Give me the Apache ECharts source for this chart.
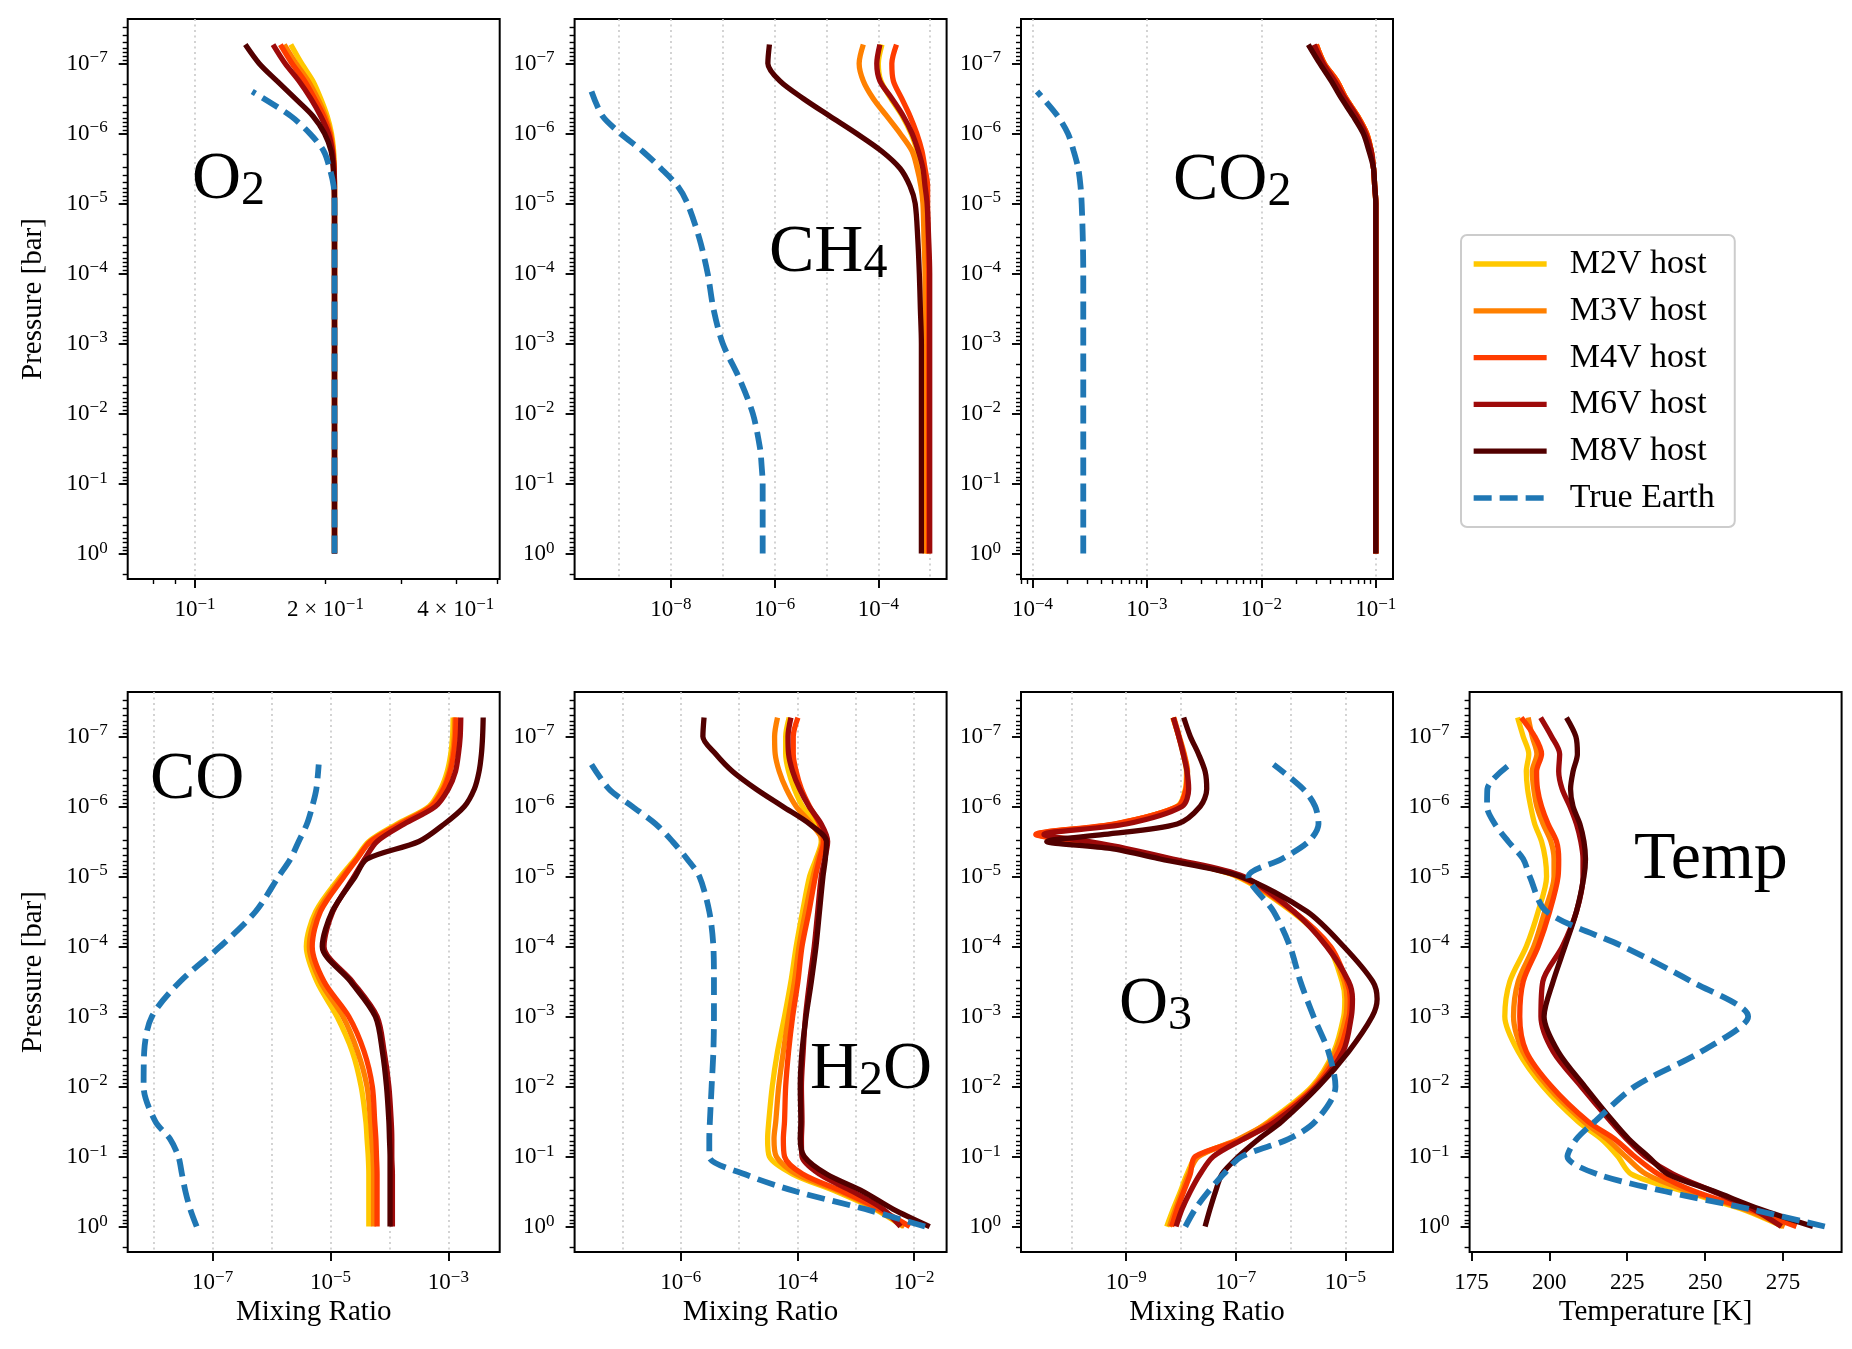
<!DOCTYPE html>
<html>
<head>
<meta charset="utf-8">
<script src="https://cdn.jsdelivr.net/npm/echarts@6/dist/echarts.min.js"></script>
<style>
  html, body { margin: 0; padding: 0; background: #fff; }
  #chart { width: 1852px; height: 1349px; }
</style>
</head>
<body>
<div id="chart"></div>
<script>
// pressure levels, log10(bar)
const LOGP = [0, -0.25, -0.5, -0.75, -1, -1.25, -1.5, -2, -2.5, -3, -3.5, -4, -4.5, -5, -5.25, -5.5, -5.75, -6, -6.25, -6.5, -6.75, -7, -7.27];
const LOGP_EARTH = [0, -0.25, -0.5, -0.75, -1, -1.25, -1.5, -2, -2.5, -3, -3.5, -4, -4.5, -5, -5.25, -5.5, -5.75, -6, -6.25, -6.6];
const LOGP_O3 = [0, -0.25, -0.5, -0.75, -1, -1.25, -1.5, -2, -2.5, -3, -3.25, -3.5, -4, -4.5, -5, -5.25, -5.4, -5.5, -5.6, -5.75, -6, -6.25, -6.5, -6.75, -7, -7.27];

const HOSTS = ['M2V host', 'M3V host', 'M4V host', 'M6V host', 'M8V host'];
const EARTH = 'True Earth';

// mixing ratios, log10
const O2_M2V = [-0.678,-0.678,-0.678,-0.678,-0.678,-0.678,-0.678,-0.678,-0.678,-0.678,-0.678,-0.678,-0.678,-0.678,-0.678,-0.679,-0.680,-0.685,-0.695,-0.710,-0.728,-0.754,-0.779];
const O2_M3V = [-0.678,-0.678,-0.678,-0.678,-0.678,-0.678,-0.678,-0.678,-0.678,-0.678,-0.678,-0.678,-0.678,-0.678,-0.678,-0.679,-0.681,-0.687,-0.699,-0.717,-0.739,-0.767,-0.794];
const O2_M4V = [-0.678,-0.678,-0.678,-0.678,-0.678,-0.678,-0.678,-0.678,-0.678,-0.678,-0.678,-0.678,-0.678,-0.678,-0.678,-0.679,-0.682,-0.689,-0.703,-0.724,-0.747,-0.776,-0.803];
const O2_M6V = [-0.678,-0.678,-0.678,-0.678,-0.678,-0.678,-0.678,-0.678,-0.678,-0.678,-0.678,-0.678,-0.678,-0.678,-0.678,-0.679,-0.683,-0.692,-0.710,-0.733,-0.760,-0.792,-0.820];
const O2_M8V = [-0.678,-0.678,-0.678,-0.678,-0.678,-0.678,-0.678,-0.678,-0.678,-0.678,-0.678,-0.678,-0.678,-0.678,-0.679,-0.681,-0.686,-0.701,-0.728,-0.769,-0.811,-0.852,-0.884];
const O2_EARTH = [-0.678,-0.678,-0.678,-0.678,-0.678,-0.678,-0.678,-0.678,-0.678,-0.678,-0.678,-0.678,-0.678,-0.678,-0.680,-0.689,-0.703,-0.735,-0.779,-0.868];

const CH4_M2V = [-3.06,-3.06,-3.06,-3.06,-3.06,-3.06,-3.06,-3.06,-3.06,-3.06,-3.06,-3.06,-3.08,-3.09,-3.12,-3.16,-3.25,-3.37,-3.54,-3.76,-3.95,-4.00,-3.93];
const CH4_M3V = [-3.10,-3.10,-3.10,-3.10,-3.10,-3.10,-3.10,-3.10,-3.10,-3.10,-3.10,-3.10,-3.12,-3.14,-3.18,-3.25,-3.35,-3.58,-3.84,-4.10,-4.29,-4.37,-4.29];
const CH4_M4V = [-3.03,-3.03,-3.03,-3.03,-3.03,-3.03,-3.03,-3.03,-3.03,-3.03,-3.03,-3.03,-3.04,-3.05,-3.05,-3.10,-3.16,-3.26,-3.39,-3.55,-3.71,-3.74,-3.65];
const CH4_M6V = [-3.01,-3.01,-3.01,-3.01,-3.01,-3.01,-3.01,-3.01,-3.01,-3.01,-3.01,-3.01,-3.03,-3.06,-3.10,-3.14,-3.23,-3.35,-3.52,-3.74,-3.97,-4.03,-3.97];
const CH4_M8V = [-3.17,-3.17,-3.17,-3.17,-3.17,-3.17,-3.17,-3.17,-3.17,-3.17,-3.19,-3.21,-3.24,-3.29,-3.39,-3.58,-3.94,-4.42,-4.94,-5.45,-5.90,-6.13,-6.10];
const CH4_EARTH = [-6.23,-6.23,-6.23,-6.23,-6.23,-6.25,-6.28,-6.42,-6.68,-7.00,-7.18,-7.29,-7.45,-7.68,-7.87,-8.19,-8.55,-8.97,-9.32,-9.53];

const CO2_M2V = [-1.0,-1.0,-1.0,-1.0,-1.0,-1.0,-1.0,-1.0,-1.0,-1.0,-1.0,-1.0,-1.0,-1.0,-1.01,-1.02,-1.04,-1.08,-1.16,-1.26,-1.34,-1.45,-1.52];
const CO2_M3V = [-1.0,-1.0,-1.0,-1.0,-1.0,-1.0,-1.0,-1.0,-1.0,-1.0,-1.0,-1.0,-1.0,-1.0,-1.01,-1.02,-1.04,-1.08,-1.16,-1.26,-1.34,-1.45,-1.52];
const CO2_M4V = [-1.0,-1.0,-1.0,-1.0,-1.0,-1.0,-1.0,-1.0,-1.0,-1.0,-1.0,-1.0,-1.0,-1.0,-1.01,-1.02,-1.04,-1.08,-1.16,-1.26,-1.34,-1.45,-1.52];
const CO2_M6V = [-1.0,-1.0,-1.0,-1.0,-1.0,-1.0,-1.0,-1.0,-1.0,-1.0,-1.0,-1.0,-1.0,-1.0,-1.01,-1.02,-1.04,-1.09,-1.17,-1.27,-1.36,-1.46,-1.54];
const CO2_M8V = [-1.0,-1.0,-1.0,-1.0,-1.0,-1.0,-1.0,-1.0,-1.0,-1.0,-1.0,-1.0,-1.0,-1.0,-1.01,-1.02,-1.06,-1.11,-1.20,-1.30,-1.39,-1.49,-1.59];
const CO2_EARTH = [-3.556,-3.556,-3.556,-3.556,-3.556,-3.556,-3.556,-3.556,-3.556,-3.556,-3.556,-3.556,-3.56,-3.57,-3.58,-3.60,-3.64,-3.69,-3.78,-3.96];

const CO_M2V = [-4.35,-4.35,-4.35,-4.35,-4.36,-4.38,-4.40,-4.48,-4.63,-4.89,-5.23,-5.41,-5.25,-4.83,-4.58,-4.35,-3.87,-3.33,-3.13,-3.02,-2.96,-2.93,-2.92];
const CO_M3V = [-4.27,-4.27,-4.27,-4.27,-4.28,-4.30,-4.32,-4.38,-4.54,-4.79,-5.17,-5.36,-5.21,-4.80,-4.56,-4.33,-3.84,-3.31,-3.10,-2.99,-2.93,-2.90,-2.89];
const CO_M4V = [-4.21,-4.21,-4.21,-4.21,-4.22,-4.23,-4.25,-4.29,-4.43,-4.69,-5.11,-5.31,-5.17,-4.77,-4.55,-4.32,-3.81,-3.29,-3.08,-2.97,-2.91,-2.88,-2.87];
const CO_M6V = [-3.95,-3.95,-3.95,-3.95,-3.96,-3.96,-3.97,-4.01,-4.09,-4.21,-4.63,-5.11,-4.96,-4.60,-4.42,-4.21,-3.75,-3.22,-3.00,-2.88,-2.83,-2.80,-2.79];
const CO_M8V = [-3.99,-3.99,-3.99,-3.99,-3.99,-4.00,-4.01,-4.05,-4.12,-4.24,-4.66,-5.14,-4.97,-4.58,-4.38,-3.50,-3.07,-2.73,-2.56,-2.48,-2.44,-2.42,-2.41];
const CO_EARTH = [-7.27,-7.38,-7.46,-7.52,-7.58,-7.72,-7.97,-8.17,-8.16,-8.03,-7.55,-6.87,-6.27,-5.88,-5.68,-5.54,-5.40,-5.31,-5.24,-5.20];

const H2O_M2V = [-2.18,-2.67,-3.33,-4.08,-4.48,-4.51,-4.49,-4.43,-4.34,-4.22,-4.11,-4.02,-3.91,-3.79,-3.68,-3.59,-3.68,-3.91,-4.05,-4.15,-4.20,-4.20,-4.14];
const H2O_M3V = [-2.16,-2.64,-3.27,-4.02,-4.36,-4.40,-4.37,-4.32,-4.24,-4.15,-4.05,-3.97,-3.86,-3.73,-3.65,-3.57,-3.76,-4.02,-4.19,-4.31,-4.38,-4.39,-4.34];
const H2O_M4V = [-2.07,-2.59,-3.22,-3.91,-4.22,-4.24,-4.22,-4.20,-4.15,-4.08,-3.99,-3.92,-3.80,-3.69,-3.62,-3.55,-3.62,-3.79,-3.93,-4.02,-4.07,-4.07,-3.99];
const H2O_M6V = [-2.23,-2.53,-3.05,-3.62,-3.92,-3.93,-3.92,-3.93,-3.90,-3.86,-3.79,-3.71,-3.65,-3.59,-3.53,-3.48,-3.59,-3.80,-3.96,-4.08,-4.15,-4.16,-4.11];
const H2O_M8V = [-1.73,-2.36,-2.87,-3.50,-3.88,-3.95,-3.94,-3.95,-3.92,-3.85,-3.76,-3.68,-3.62,-3.56,-3.52,-3.50,-3.79,-4.25,-4.71,-5.11,-5.40,-5.62,-5.60];
const H2O_EARTH = [-1.81,-2.84,-4.02,-4.91,-5.51,-5.51,-5.50,-5.47,-5.44,-5.43,-5.43,-5.44,-5.51,-5.68,-5.89,-6.14,-6.43,-6.83,-7.23,-7.53];

const O3_M2V = [-8.26,-8.14,-8.01,-7.89,-7.71,-6.92,-6.40,-5.61,-5.21,-5.03,-5.01,-5.06,-5.31,-5.98,-6.98,-8.20,-9.11,-9.78,-10.54,-9.17,-8.07,-7.92,-7.90,-7.96,-8.04,-8.15];
const O3_M3V = [-8.21,-8.10,-7.98,-7.86,-7.68,-6.95,-6.37,-5.58,-5.18,-4.99,-4.97,-5.02,-5.29,-5.96,-6.95,-8.22,-9.15,-9.85,-10.62,-9.20,-8.05,-7.90,-7.88,-7.94,-8.03,-8.13];
const O3_M4V = [-8.17,-8.07,-7.95,-7.83,-7.74,-6.86,-6.34,-5.55,-5.12,-4.93,-4.91,-4.97,-5.27,-5.94,-6.93,-8.25,-9.18,-9.90,-10.65,-9.20,-8.06,-7.91,-7.89,-7.95,-8.04,-8.14];
const O3_M6V = [-8.09,-7.98,-7.83,-7.65,-7.41,-6.86,-6.28,-5.52,-5.04,-4.89,-4.87,-4.94,-5.34,-5.94,-6.86,-8.15,-9.00,-9.70,-10.50,-9.00,-7.98,-7.86,-7.89,-7.96,-8.04,-8.14];
const O3_M8V = [-7.56,-7.47,-7.37,-7.25,-6.95,-6.58,-6.16,-5.49,-4.94,-4.51,-4.42,-4.50,-5.03,-5.70,-6.92,-8.38,-9.29,-10.45,-9.40,-8.07,-7.65,-7.53,-7.56,-7.68,-7.83,-7.95];
const O3_EARTH = [-7.92,-7.74,-7.50,-7.22,-6.89,-6.04,-5.55,-5.18,-5.31,-5.58,-5.82,-6.01,-6.31,-6.77,-6.16,-5.67,-5.49,-5.55,-5.77,-6.31];

// temperature, K
const T_M2V = [275.0,261.7,243.5,226.3,222.0,216.7,209.2,198.0,190.0,185.7,187.3,192.6,196.4,199.1,198.7,197.5,195.3,194.0,193.0,192.6,193.4,191.6,189.8];
const T_M3V = [275.5,262.5,245.0,231.0,224.5,218.5,211.0,199.5,191.5,188.5,190.0,195.0,198.5,201.5,201.5,200.5,198.0,196.0,195.0,194.5,196.0,194.5,193.2];
const T_M4V = [279.3,263.8,246.7,234.9,227.4,221.0,212.4,200.7,192.6,190.5,191.6,196.4,200.1,202.8,203.0,202.3,199.6,197.5,196.2,195.9,197.5,195.3,191.0];
const T_M6V = [274.5,265.4,252.6,239.7,230.8,224.8,219.7,210.2,201.2,197.3,197.9,204.2,208.7,210.8,210.8,210.1,208.7,206.6,204.1,203.0,203.3,200.7,197.2];
const T_M8V = [284.6,267.5,253.1,238.1,231.7,225.5,220.5,211.4,202.8,198.3,201.2,205.0,208.7,211.1,211.6,211.1,209.8,207.6,206.8,207.6,209.0,208.5,205.5];
const T_EARTH = [288.4,264.4,237.4,215.3,205.8,208.7,214.6,227.4,248.8,263.8,245.6,223.7,199.1,193.7,191.6,186.8,182.5,180.0,180.1,187.3];

// tick values
const P_TICKS = [1e-7, 1e-6, 1e-5, 1e-4, 1e-3, 1e-2, 1e-1, 1];
const O2_XLABELS = [0.1, 0.2, 0.4];
const O2_XMAJOR = [0.1];
const O2_XMINOR = [0.08, 0.09, 0.2, 0.3, 0.4, 0.5];
const CH4_XLABELS = [1e-8, 1e-6, 1e-4];
const CH4_XGRID = [1e-9, 1e-8, 1e-7, 1e-6, 1e-5, 1e-4, 1e-3];
const CO2_XLABELS = [1e-4, 1e-3, 1e-2, 1e-1];
const CO_XLABELS = [1e-7, 1e-5, 1e-3];
const CO_XGRID = [1e-8, 1e-7, 1e-6, 1e-5, 1e-4, 1e-3];
const H2O_XLABELS = [1e-6, 1e-4, 1e-2];
const H2O_XGRID = [1e-7, 1e-6, 1e-5, 1e-4, 1e-3, 1e-2];
const O3_XLABELS = [1e-9, 1e-7, 1e-5];
const O3_XGRID = [1e-10, 1e-9, 1e-8, 1e-7, 1e-6, 1e-5];
const T_XLABELS = [175, 200, 225, 250, 275];

const HOST_COLORS = ['#ffc800', '#ff8000', '#ff3c00', '#9e0a0a', '#520000'];
const EARTH_COLOR = '#1f77b4';
const FONT = "'Liberation Serif', 'DejaVu Serif', serif";
const Y_MIN = -7.635, Y_MAX = 0.3635;
const PW = 372, PH = 560;

const lg = arr => arr.map(v => Math.log10(v));

function minorLogs(lo, hi) {
  const out = [];
  for (let n = Math.floor(lo) - 1; n <= Math.ceil(hi); n++) {
    for (let k = 2; k <= 9; k++) {
      const v = n + Math.log10(k);
      if (v > lo && v < hi) out.push(v);
    }
  }
  return out;
}

function logLabel(v) {
  const n = Math.floor(v + 1e-6);
  const m = Math.round(Math.pow(10, v - n));
  const e = n < 0 ? '\u2212' + (-n) : String(n);
  return (m === 1 ? '{b|10}' : '{b|' + m + ' \u00d7 10}') + '{e|' + e + '}';
}

const TICK_RICH = {
  b: { fontFamily: FONT, fontSize: 23, lineHeight: 28, color: '#000', verticalAlign: 'middle' },
  e: { fontFamily: FONT, fontSize: 17, lineHeight: 14, color: '#000', verticalAlign: 'top' }
};
const PANEL_RICH = {
  b: { fontFamily: FONT, fontSize: 68, lineHeight: 70, color: '#000', verticalAlign: 'middle' },
  s: { fontFamily: FONT, fontSize: 48, lineHeight: 36, color: '#000', verticalAlign: 'bottom' }
};

const panels = [
  { left: 127.7, top: 19, label: '{b|O}{s|2}', lx: 192, ly: 145,
    xMin: -1.1556, xMax: -0.2965, log: true,
    labels: lg(O2_XLABELS), major: lg(O2_XMAJOR), grid: lg(O2_XMAJOR), minor: lg(O2_XMINOR),
    hosts: [O2_M2V, O2_M3V, O2_M4V, O2_M6V, O2_M8V], earth: O2_EARTH, p: LOGP, yName: 'Pressure [bar]' },
  { left: 574.6, top: 19, label: '{b|CH}{s|4}', lx: 769, ly: 218,
    xMin: -9.856, xMax: -2.684, log: true,
    labels: lg(CH4_XLABELS), major: lg(CH4_XLABELS), grid: lg(CH4_XGRID), minor: [],
    hosts: [CH4_M2V, CH4_M3V, CH4_M4V, CH4_M6V, CH4_M8V], earth: CH4_EARTH, p: LOGP },
  { left: 1021, top: 19, label: '{b|CO}{s|2}', lx: 1173, ly: 146,
    xMin: -4.10, xMax: -0.85, log: true,
    labels: lg(CO2_XLABELS), major: lg(CO2_XLABELS), grid: lg(CO2_XLABELS), minor: minorLogs(-4.10, -0.85),
    hosts: [CO2_M2V, CO2_M3V, CO2_M4V, CO2_M6V, CO2_M8V], earth: CO2_EARTH, p: LOGP },
  { left: 127.7, top: 692, label: '{b|CO}', lx: 150, ly: 745,
    xMin: -8.44, xMax: -2.13, log: true,
    labels: lg(CO_XLABELS), major: lg(CO_XLABELS), grid: lg(CO_XGRID), minor: [],
    hosts: [CO_M2V, CO_M3V, CO_M4V, CO_M6V, CO_M8V], earth: CO_EARTH, p: LOGP,
    xName: 'Mixing Ratio', yName: 'Pressure [bar]' },
  { left: 574.6, top: 692, label: '{b|H}{s|2}{b|O}', lx: 810, ly: 1035,
    xMin: -7.82, xMax: -1.44, log: true,
    labels: lg(H2O_XLABELS), major: lg(H2O_XLABELS), grid: lg(H2O_XGRID), minor: [],
    hosts: [H2O_M2V, H2O_M3V, H2O_M4V, H2O_M6V, H2O_M8V], earth: H2O_EARTH, p: LOGP,
    xName: 'Mixing Ratio' },
  { left: 1021, top: 692, label: '{b|O}{s|3}', lx: 1119, ly: 970,
    xMin: -10.92, xMax: -4.13, log: true,
    labels: lg(O3_XLABELS), major: lg(O3_XLABELS), grid: lg(O3_XGRID), minor: [],
    hosts: [O3_M2V, O3_M3V, O3_M4V, O3_M6V, O3_M8V], earth: O3_EARTH, p: LOGP_O3,
    xName: 'Mixing Ratio' },
  { left: 1469.6, top: 692, label: '{b|Temp}', lx: 1634, ly: 825,
    xMin: 174.4, xMax: 293.8, log: false,
    labels: T_XLABELS, major: T_XLABELS, grid: [], minor: [],
    hosts: [T_M2V, T_M3V, T_M4V, T_M6V, T_M8V], earth: T_EARTH, p: LOGP,
    xName: 'Temperature [K]' }
];

const grids = [], xAxes = [], yAxes = [], series = [], titles = [];
const yMajor = lg(P_TICKS);
const yMinor = minorLogs(Y_MIN, Y_MAX);
const nameStyle = { fontFamily: FONT, fontSize: 29, color: '#000' };

panels.forEach((pn, i) => {
  grids.push({ left: pn.left, top: pn.top, width: PW, height: PH, show: true,
    borderColor: '#000', borderWidth: 2, backgroundColor: 'transparent' });

  const xBase = { type: 'value', gridIndex: i, position: 'bottom', min: pn.xMin, max: pn.xMax,
    axisLine: { show: false, onZero: false } };
  xAxes.push(Object.assign({}, xBase, {
    axisTick: { show: true, length: 9, customValues: pn.major, lineStyle: { color: '#000', width: 1.9 } },
    axisLabel: { show: true, customValues: pn.labels, margin: 17, color: '#000', rich: TICK_RICH,
      formatter: v => pn.log ? logLabel(v) : '{b|' + v + '}' },
    splitLine: { show: false },
    name: pn.xName || '', nameLocation: 'middle', nameGap: 46, nameTextStyle: nameStyle
  }));
  xAxes.push(Object.assign({}, xBase, {
    axisTick: { show: false, customValues: pn.grid },
    axisLabel: { show: false },
    splitLine: { show: pn.grid.length > 0, lineStyle: { color: '#c8c8c8', width: 1.6, type: [2, 3.5] } }
  }));
  xAxes.push(Object.assign({}, xBase, {
    axisTick: { show: pn.minor.length > 0, length: 5, customValues: pn.minor, lineStyle: { color: '#000', width: 1.4 } },
    axisLabel: { show: false },
    splitLine: { show: false }
  }));

  const yBase = { type: 'value', gridIndex: i, position: 'left', inverse: true, min: Y_MIN, max: Y_MAX,
    axisLine: { show: false, onZero: false }, splitLine: { show: false } };
  yAxes.push(Object.assign({}, yBase, {
    axisTick: { show: true, length: 9, customValues: yMajor, lineStyle: { color: '#000', width: 1.9 } },
    axisLabel: { show: true, customValues: yMajor, margin: 20, color: '#000', rich: TICK_RICH, formatter: logLabel },
    name: pn.yName || '', nameLocation: 'middle', nameGap: 80, nameTextStyle: nameStyle
  }));
  yAxes.push(Object.assign({}, yBase, {
    axisTick: { show: true, length: 5, customValues: yMinor, lineStyle: { color: '#000', width: 1.4 } },
    axisLabel: { show: false }
  }));

  pn.hosts.forEach((xs, j) => {
    series.push({
      type: 'line', name: HOSTS[j], xAxisIndex: 3 * i, yAxisIndex: 2 * i,
      data: xs.map((x, k) => [x, pn.p[k]]),
      symbol: 'none', smooth: 0.3, animation: false, silent: true,
      lineStyle: { color: HOST_COLORS[j], width: 5.3 }, itemStyle: { color: HOST_COLORS[j] }
    });
  });
  series.push({
    type: 'line', name: EARTH, xAxisIndex: 3 * i, yAxisIndex: 2 * i,
    data: pn.earth.map((x, k) => [x, LOGP_EARTH[k]]),
    symbol: 'none', smooth: 0.3, animation: false, silent: true,
    lineStyle: { color: EARTH_COLOR, width: 5.8, type: [18, 8] }, itemStyle: { color: EARTH_COLOR }
  });

  titles.push({ text: pn.label, left: pn.lx, top: pn.ly, padding: 0,
    textStyle: { fontFamily: FONT, fontSize: 68, fontWeight: 'normal', color: '#000', rich: PANEL_RICH } });
});

const chart = echarts.init(document.getElementById('chart'));
chart.setOption({
  backgroundColor: '#fff',
  animation: false,
  title: titles,
  grid: grids,
  xAxis: xAxes,
  yAxis: yAxes,
  series: series,
  legend: {
    data: HOSTS.concat([EARTH]),
    orient: 'vertical', left: 1461, top: 235,
    padding: [12, 20, 12, 10],
    itemWidth: 73, itemHeight: 12, itemGap: 12.8,
    selectedMode: false,
    itemStyle: { opacity: 0 },
    lineStyle: { width: 5.3 },
    textStyle: { fontFamily: FONT, fontSize: 34, color: '#000', lineHeight: 34, padding: [0, 0, 0, 18] },
    borderColor: '#cccccc', borderWidth: 2, borderRadius: 6, backgroundColor: '#fff'
  }
});
</script>
</body>
</html>
